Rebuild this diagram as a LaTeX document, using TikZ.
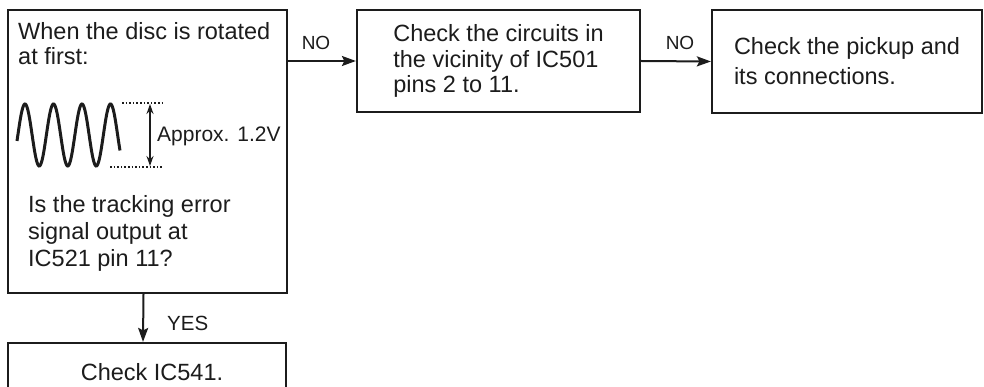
\documentclass[tikz,border=0pt]{standalone}
\usepackage{fontspec}
\setmainfont{Liberation Sans}
\usetikzlibrary{arrows.meta,calc}
\definecolor{ink}{HTML}{1C1C1C}
\begin{document}
\begin{tikzpicture}[x=1pt,y=-1pt,
  box/.style={draw=ink, line width=2.2pt, rectangle, inner sep=0pt},
  txt/.style={font=\fontsize{23.5}{28}\selectfont, text=ink, align=left, inner sep=0pt},
  lbl/.style={font=\fontsize{19}{22}\selectfont, text=ink, inner sep=0pt},
  arr/.style={draw=ink, line width=2pt, -{Stealth[length=14pt,width=10pt,inset=2.5pt]}},
  dots/.style={draw=ink, line width=1.8pt, dash pattern=on 1.6pt off 2pt}]
\useasboundingbox (0,0) rectangle (984,387);
\clip (0,0) rectangle (984,387);
% boxes
\node[box, minimum width=279pt, minimum height=283pt] (q) at (147.5,151.5) {};
\node[box, txt, font=\fontsize{23.5}{25.5}\selectfont, minimum width=283pt, minimum height=102pt] (c1) at (498.5,61) {Check the circuits in\\the vicinity of IC501\\pins 2 to 11.};
\node[box, txt, font=\fontsize{23.5}{30}\selectfont, minimum width=270pt, minimum height=103pt] (c2) at (847,61.5) {Check the pickup and\\its connections.};
\node[box, minimum width=278pt, minimum height=80pt] (c3) at (147,383) {};
% texts in the first box
\node[txt, font=\fontsize{23.5}{25}\selectfont, anchor=base west] (qa) at (18,65) {When the disc is rotated\\at first:};
\node[txt, font=\fontsize{23.5}{27}\selectfont, anchor=base west] (qb) at (28,266) {Is the tracking error\\signal output at\\IC521 pin 11?};
\node[anchor=base west, font=\fontsize{21}{24}\selectfont, text=ink, inner sep=0pt] (amp) at (157,142) {Approx. 1.2V};
\node[txt, anchor=base] (c3t) at (152,380) {Check IC541.};
% waveform
\draw[ink, line width=3pt] plot[domain=17:120, samples=160, smooth] (\x,{135-31*cos(12.6316*(\x-25))});
\coordinate (dt1) at (122,103); \coordinate (dt2) at (162,103);
\coordinate (db1) at (110,167); \coordinate (db2) at (162,167);
\draw[dots] (dt1) -- (dt2);
\draw[dots] (db1) -- (db2);
\coordinate (at) at (150,104); \coordinate (ab) at (150,166);
\draw[ink, line width=2.2pt, {Stealth[length=10pt,width=7pt]}-{Stealth[length=10pt,width=7pt]}] (at) -- (ab);
% connectors
\draw[arr] (q.east |- c1.west) -- (c1.west);
\draw[arr] (c1.east) -- (c2.west);
\draw[arr] ($(q.south)+(-4,0)$) -- ($(c3.north)+(-4,0)$);
% labels
\node[lbl, anchor=base] (no1) at (316,50) {NO};
\node[lbl, anchor=base] (no2) at (680,50) {NO};
\node[anchor=base west, font=\fontsize{20.5}{24}\selectfont, text=ink, inner sep=0pt] (yes) at (167,330) {YES};
\end{tikzpicture}
\end{document}
